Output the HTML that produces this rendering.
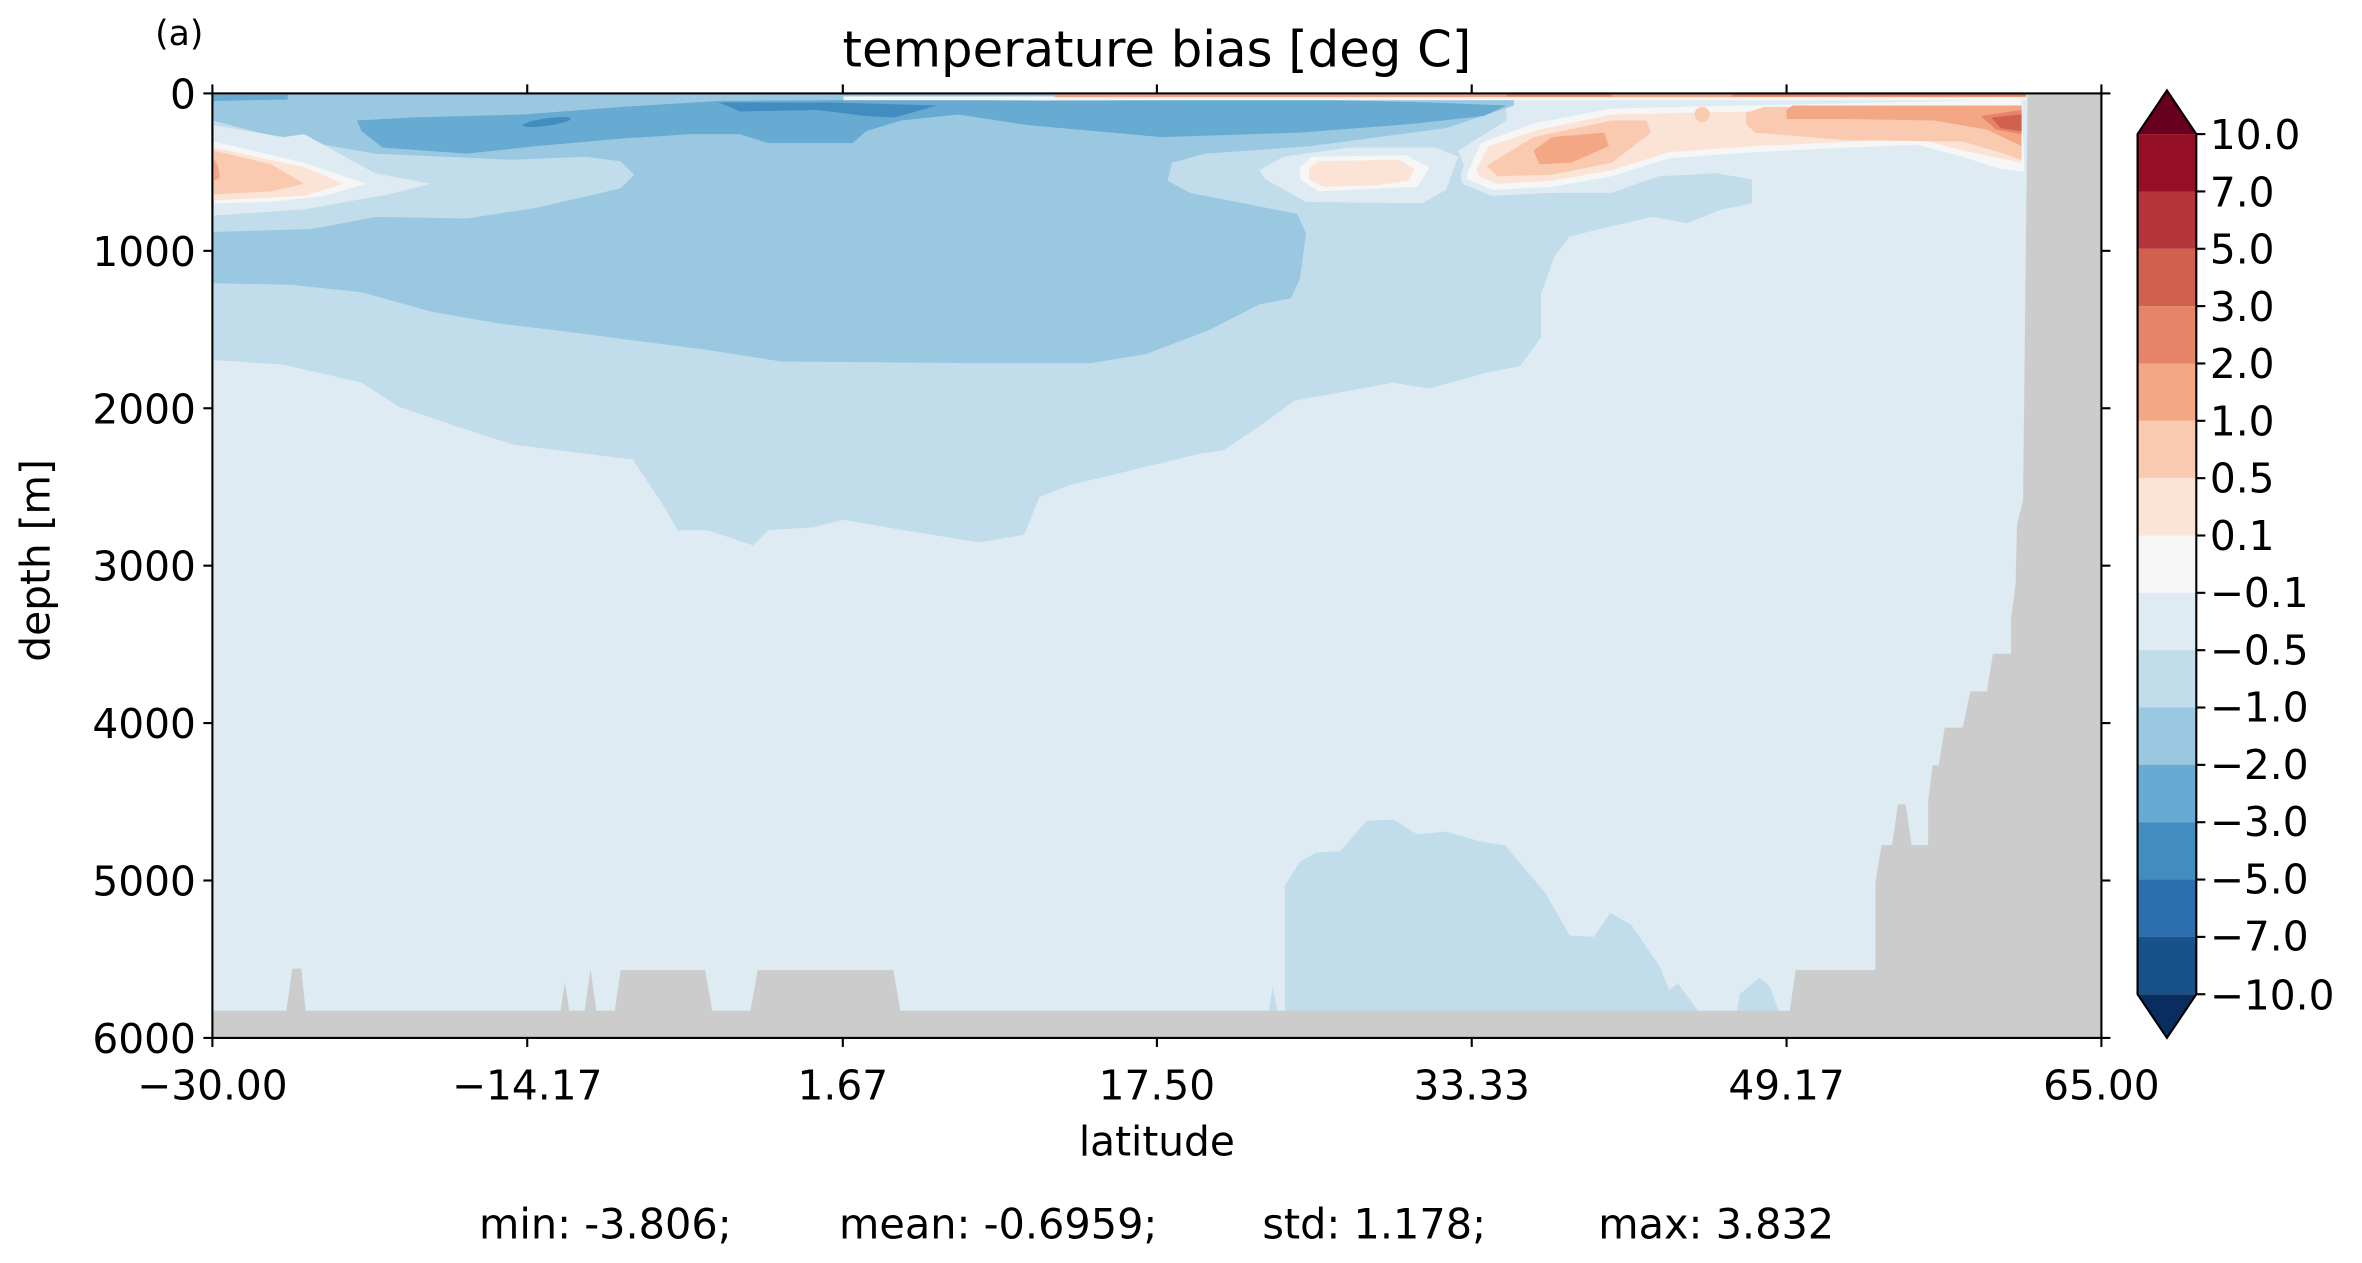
<!DOCTYPE html>
<html><head><meta charset="utf-8"><style>html,body{margin:0;padding:0;background:#fff}svg{display:block}</style></head>
<body>
<svg width="2362" height="1263" viewBox="0 0 1568 838.4" xmlns="http://www.w3.org/2000/svg" font-family="DejaVu Sans, Liberation Sans, sans-serif">
<rect x="0" y="0" width="1568" height="839" fill="#fff"/>
<rect x="141" y="62" width="1254" height="627" fill="#deebf2"/>
<polygon fill="#c1dcea" points="141,62 1000,62 1000,80 968,100 975,118 1000,128 1070,128 1101,117 1139,115 1163,119 1163,135 1143,139 1120,148 1097,144 1066,151 1042,157 1032,170 1023,195 1023,224 1009,243 984,248 949,258 925,254 859,266 836,283 812,299 797,301 760,310 710,322 690,330 680,355 650,360 600,352 560,345 540,350 510,352 500,362 470,352 450,352 440,335 420,305 380,300 340,295 300,282 265,270 240,254 188,242 141,239"/>
<polygon fill="#c1dcea" points="853,672 853,588 863,572 874,566 890,565 907,545 925,544 941,554 960,552 984,559 999,561 1026,593 1042,621 1058,622 1069,606 1083,614 1102,642 1108,657 1114,653 1128,672"/>
<polygon fill="#c1dcea" points="1153,672 1155,660 1168,649 1175,655 1181,672"/>
<polygon fill="#c1dcea" points="842,672 845,655 848,672"/>
<polygon fill="#99c8e0" points="141,62 1005,62 1005,70 960,85 870,97 800,102 778,108 775,120 790,128 861,142 867,155 863,185 857,198 836,202 803,219 761,235 724,241 645,241 519,240 468,232 421,226 375,220 333,215 287,207 240,194 193,189 141,188"/>
<polygon fill="#c1dcea" points="141,80 180,90 249,102 340,106 389,104 412,107 421,116 412,125 356,138 310,145 249,144 207,152 141,154"/>
<polygon fill="#67aad2" points="237,80 272,78 347,76 412,71 477,67 622,66 692,67 863,66 950,68 1000,70 985,77 940,82 863,88 771,91 682,83 636,76 598,80 575,87 566,95 510,95 491,89 459,89 412,92 356,97 310,102 254,98 240,87"/>
<polygon fill="#67aad2" points="141,63 191,63 191,66 141,67"/>
<ellipse cx="363" cy="81" rx="16" ry="2.5" fill="#418dc0" transform="rotate(-8 363 81)"/>
<polygon fill="#418dc0" points="477,68 552,68 622,70 594,78 575,77 543,73 491,74 487,72"/>
<polygon fill="#deebf2" points="142,83 188,91 202,89 249,115 286,122 258,129 202,139 142,143"/>
<polygon fill="#f6f6f6" points="142,94 202,108 243,122 215,130 180,134 142,135"/>
<polygon fill="#fbe4d6" points="142,98 202,111 228,122 202,130 142,133"/>
<polygon fill="#f9caaf" points="142,100 180,109 202,122 180,127 142,129"/>
<polygon fill="#f4a785" points="142,105 145,111 146,118 142,120"/>
<polygon fill="#deebf2" points="836,113 852,104 895,98 953,98 968,104 960,126 944,135 867,134 840,119"/>
<polygon fill="#f6f6f6" points="863,111 871,104 933,103 949,111 941,124 875,127 863,119"/>
<polygon fill="#fbe4d6" points="869,112 875,107 929,106 939,112 935,120 914,123 879,124 869,119"/>
<polygon fill="#deebf2" stroke="#deebf2" stroke-width="8" stroke-linejoin="round" points="974,115 983,95 1018,82 1070,72 1342,66 1344,114 1327,112 1303,104 1272,96 1225,98 1165,101 1108,105 1070,117 1030,124 991,126 974,119"/>
<polygon fill="#f6f6f6" points="974,115 983,95 1018,82 1070,72 1342,66 1344,114 1327,112 1303,104 1272,96 1225,98 1165,101 1108,105 1070,117 1030,124 991,126 974,119"/>
<polygon fill="#fbe4d6" points="980,113 988,97 1022,86 1070,76 1342,70 1342,108 1303,100 1272,92 1165,97 1108,101 1070,113 1030,120 994,122 982,117"/>
<polygon fill="#f9caaf" points="987,110 1018,91 1070,80 1093,80 1096,88 1070,108 1030,116 994,117"/>
<polygon fill="#f9caaf" points="1159,75 1171,71 1342,70 1342,106 1327,101 1303,94 1225,93 1165,88 1159,82"/>
<polygon fill="#f4a785" points="1018,100 1030,91 1065,88 1068,97 1043,108 1022,109"/>
<polygon fill="#f4a785" points="1186,73 1190,70 1342,70 1342,97 1319,86 1284,80 1225,79 1186,79"/>
<polygon fill="#e58468" points="1315,77 1342,73 1342,89 1325,86"/>
<polygon fill="#d1604f" points="1322,78 1342,76 1342,87 1328,85"/>
<circle cx="1130" cy="76" r="5" fill="#f9caaf"/>
<rect x="560" y="64" width="785" height="2.5" fill="#f6f6f6"/>
<rect x="700" y="62" width="645" height="2.5" fill="#f4a785"/>
<rect x="1000" y="62" width="70" height="2" fill="#e58468"/>
<rect x="1150" y="62" width="195" height="2" fill="#e58468"/>
<g fill="#cccccc">
<rect x="141" y="671" width="1254" height="18"/>
<polygon points="190,672 194,643 200,643 203,672"/>
<polygon points="372,672 375,652 378,672"/>
<polygon points="388,672 392,643 396,672"/>
<polygon points="408,672 412,644 468,644 473,672"/>
<polygon points="498,672 503,644 593,644 598,672"/>
<polygon points="1395,62 1346,62 1343,332 1339,348 1338,388 1335,411 1335,434 1323,434 1319,459 1308,459 1303,483 1291,483 1287,508 1283,508 1280,532 1280,561 1269,561 1265,534 1260,534 1256,561 1249,561 1245,586 1245,644 1192,644 1188,672 1395,672"/>
</g>
<rect x="141" y="62" width="1254" height="627" fill="none" stroke="#000" stroke-width="1.4"/>
<g stroke="#000" stroke-width="1.4">
<line x1="141" y1="689" x2="141" y2="695"/><line x1="350" y1="689" x2="350" y2="695"/><line x1="559.5" y1="689" x2="559.5" y2="695"/><line x1="768" y1="689" x2="768" y2="695"/><line x1="977" y1="689" x2="977" y2="695"/><line x1="1186" y1="689" x2="1186" y2="695"/><line x1="1395" y1="689" x2="1395" y2="695"/>
<line x1="141" y1="62" x2="141" y2="56"/><line x1="350" y1="62" x2="350" y2="56"/><line x1="559.5" y1="62" x2="559.5" y2="56"/><line x1="768" y1="62" x2="768" y2="56"/><line x1="977" y1="62" x2="977" y2="56"/><line x1="1186" y1="62" x2="1186" y2="56"/><line x1="1395" y1="62" x2="1395" y2="56"/>
<line x1="135" y1="62" x2="141" y2="62"/><line x1="135" y1="166.5" x2="141" y2="166.5"/><line x1="135" y1="271" x2="141" y2="271"/><line x1="135" y1="375.5" x2="141" y2="375.5"/><line x1="135" y1="480" x2="141" y2="480"/><line x1="135" y1="584.5" x2="141" y2="584.5"/><line x1="135" y1="689" x2="141" y2="689"/>
<line x1="1395" y1="62" x2="1401" y2="62"/><line x1="1395" y1="166.5" x2="1401" y2="166.5"/><line x1="1395" y1="271" x2="1401" y2="271"/><line x1="1395" y1="375.5" x2="1401" y2="375.5"/><line x1="1395" y1="480" x2="1401" y2="480"/><line x1="1395" y1="584.5" x2="1401" y2="584.5"/><line x1="1395" y1="689" x2="1401" y2="689"/>
</g>
<g font-size="27" fill="#000">
<g text-anchor="middle">
<text x="141" y="730">−30.00</text><text x="350" y="730">−14.17</text><text x="559.5" y="730">1.67</text><text x="768" y="730">17.50</text><text x="977" y="730">33.33</text><text x="1186" y="730">49.17</text><text x="1395" y="730">65.00</text>
<text x="768" y="767">latitude</text>
</g>
<g text-anchor="end">
<text x="130" y="72">0</text><text x="130" y="176.5">1000</text><text x="130" y="281">2000</text><text x="130" y="385.5">3000</text><text x="130" y="490">4000</text><text x="130" y="594.5">5000</text><text x="130" y="699">6000</text>
</g>
<text x="33" y="372" text-anchor="middle" transform="rotate(-90 33 372)">depth [m]</text>
</g>
<text x="768" y="44" font-size="33" text-anchor="middle">temperature bias [deg C]</text>
<text x="103" y="30" font-size="23">(a)</text>
<g font-size="27.5" fill="#000">
<text x="318" y="822">min: -3.806;</text><text x="557" y="822">mean: -0.6959;</text><text x="838" y="822">std: 1.178;</text><text x="1061" y="822">max: 3.832</text>
</g>
<g>
<polygon points="1419,89 1438.5,60 1458,89" fill="#67001f"/>
<rect x="1419" y="89" width="39" height="38.1" fill="#951026"/>
<rect x="1419" y="127.07" width="39" height="38.1" fill="#b6343b"/>
<rect x="1419" y="165.13" width="39" height="38.1" fill="#d1604f"/>
<rect x="1419" y="203.2" width="39" height="38.1" fill="#e58468"/>
<rect x="1419" y="241.27" width="39" height="38.1" fill="#f4a785"/>
<rect x="1419" y="279.33" width="39" height="38.1" fill="#f9caaf"/>
<rect x="1419" y="317.4" width="39" height="38.1" fill="#fbe4d6"/>
<rect x="1419" y="355.47" width="39" height="38.1" fill="#f6f6f6"/>
<rect x="1419" y="393.53" width="39" height="38.1" fill="#deebf2"/>
<rect x="1419" y="431.6" width="39" height="38.1" fill="#c1dcea"/>
<rect x="1419" y="469.67" width="39" height="38.1" fill="#99c8e0"/>
<rect x="1419" y="507.73" width="39" height="38.1" fill="#67aad2"/>
<rect x="1419" y="545.8" width="39" height="38.1" fill="#418dc0"/>
<rect x="1419" y="583.87" width="39" height="38.1" fill="#2b6faf"/>
<rect x="1419" y="621.93" width="39" height="38.07" fill="#195189"/>
<polygon points="1419,660 1438.5,689 1458,660" fill="#0a2d5f"/>
<polygon points="1419,89 1438.5,60 1458,89 1458,660 1438.5,689 1419,660" fill="none" stroke="#000" stroke-width="1.4"/>
<g stroke="#000" stroke-width="1.4">
<line x1="1458" y1="89" x2="1464" y2="89"/><line x1="1458" y1="127.07" x2="1464" y2="127.07"/><line x1="1458" y1="165.13" x2="1464" y2="165.13"/><line x1="1458" y1="203.2" x2="1464" y2="203.2"/><line x1="1458" y1="241.27" x2="1464" y2="241.27"/><line x1="1458" y1="279.33" x2="1464" y2="279.33"/><line x1="1458" y1="317.4" x2="1464" y2="317.4"/><line x1="1458" y1="355.47" x2="1464" y2="355.47"/><line x1="1458" y1="393.53" x2="1464" y2="393.53"/><line x1="1458" y1="431.6" x2="1464" y2="431.6"/><line x1="1458" y1="469.67" x2="1464" y2="469.67"/><line x1="1458" y1="507.73" x2="1464" y2="507.73"/><line x1="1458" y1="545.8" x2="1464" y2="545.8"/><line x1="1458" y1="583.87" x2="1464" y2="583.87"/><line x1="1458" y1="621.93" x2="1464" y2="621.93"/><line x1="1458" y1="660" x2="1464" y2="660"/>
</g>
<g font-size="27" fill="#000">
<text x="1467" y="99">10.0</text><text x="1467" y="137">7.0</text><text x="1467" y="175">5.0</text><text x="1467" y="213">3.0</text><text x="1467" y="251">2.0</text><text x="1467" y="289">1.0</text><text x="1467" y="327">0.5</text><text x="1467" y="365">0.1</text><text x="1467" y="403">−0.1</text><text x="1467" y="441">−0.5</text><text x="1467" y="479">−1.0</text><text x="1467" y="517">−2.0</text><text x="1467" y="555">−3.0</text><text x="1467" y="593">−5.0</text><text x="1467" y="631">−7.0</text><text x="1467" y="670">−10.0</text>
</g>
</g>
</svg>
</body></html>
